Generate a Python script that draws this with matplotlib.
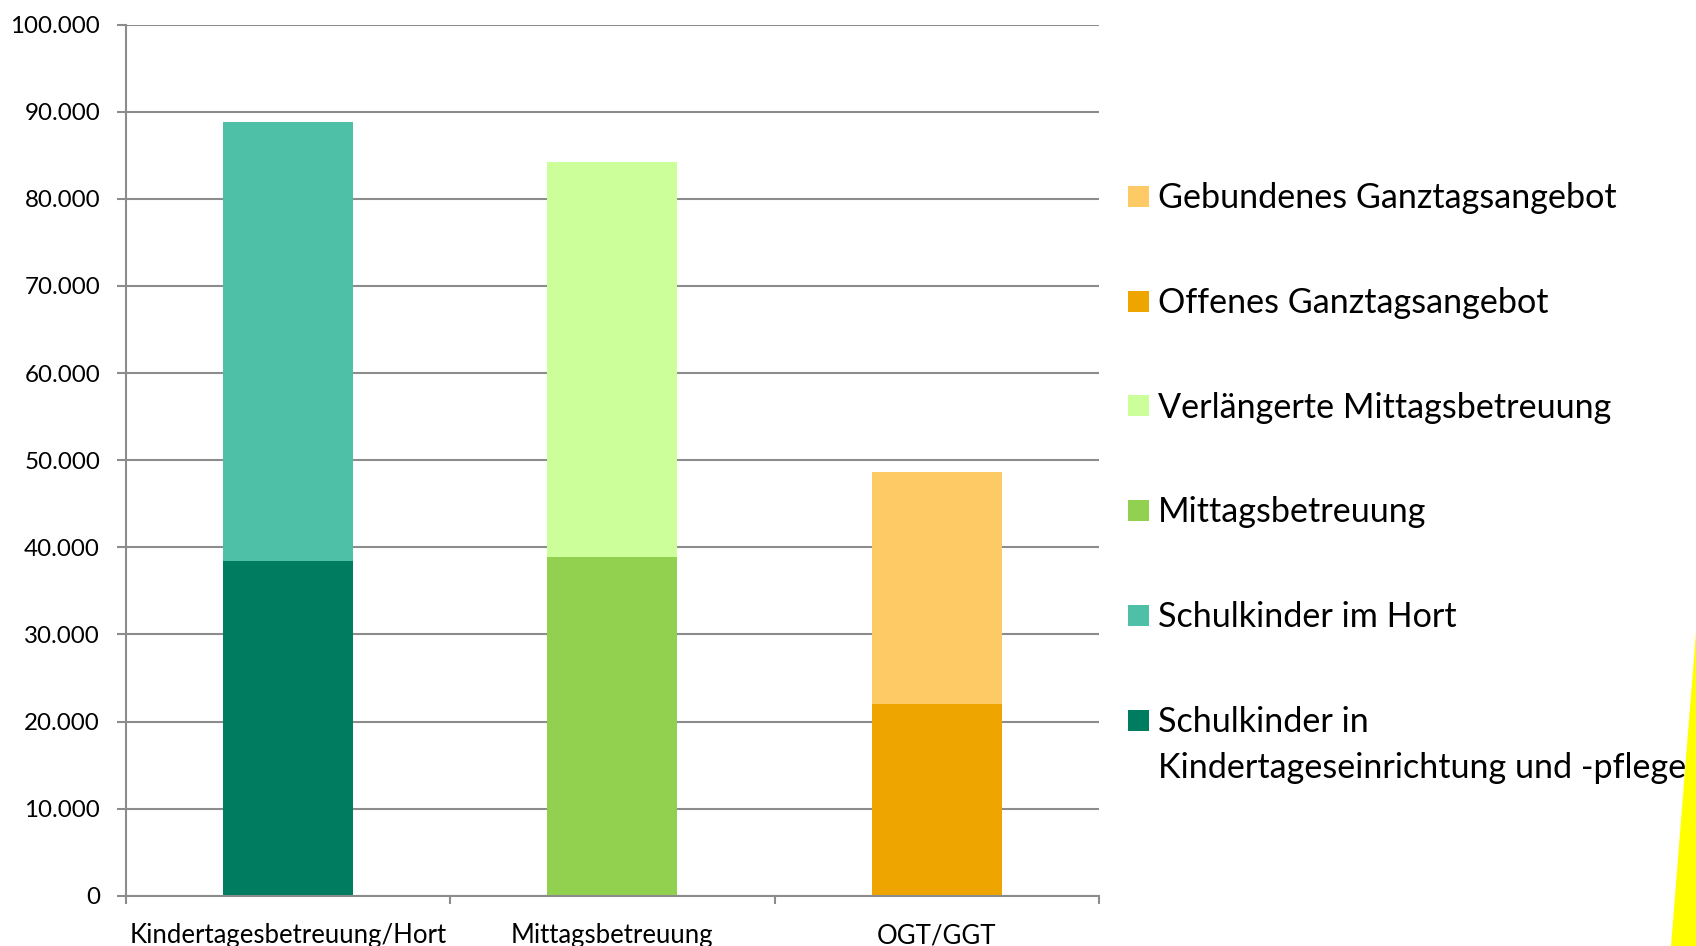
import numpy as np
import matplotlib
matplotlib.use("Agg")
import matplotlib.pyplot as plt
from matplotlib.patches import Rectangle, Polygon
from matplotlib.ticker import FuncFormatter, FixedLocator

plt.rcParams['font.family'] = ['Lato', 'DejaVu Sans']

# ---------------- data ----------------
categories = ["Kindertagesbetreuung/Hort", "Mittagsbetreuung", "OGT/GGT"]

series_names = [
    "Schulkinder in\nKindertageseinrichtung und -pflege",
    "Schulkinder im Hort",
    "Mittagsbetreuung",
    "Verlängerte Mittagsbetreuung",
    "Offenes Ganztagsangebot",
    "Gebundenes Ganztagsangebot",
]
kita_pflege      = [38400, 0, 0]
hort             = [50400, 0, 0]
mittag           = [0, 38900, 0]
mittag_verl      = [0, 45300, 0]
offen_ganztag    = [0, 0, 22000]
gebunden_ganztag = [0, 0, 26600]

series_values = [kita_pflege, hort, mittag, mittag_verl, offen_ganztag, gebunden_ganztag]
series_colors = ["#007C60", "#4EC0A8", "#92D050", "#CCFF99", "#EEA500", "#FDCA65"]

y_ticks = np.arange(0, 100001, 10000)

# ---------------- figure ----------------
W, H = 1696, 946
fig = plt.figure(figsize=(W / 100, H / 100), dpi=100)
fig.patch.set_facecolor("white")

ax_left, ax_right = 125.7, 1099.0
ax_top, ax_bottom = 24.7, 895.7
ax = fig.add_axes([ax_left / W, 1 - ax_bottom / H,
                   (ax_right - ax_left) / W, (ax_bottom - ax_top) / H])

x = np.arange(len(categories)) + 0.5
bottom = np.zeros(len(categories))
for name, vals, col in zip(series_names, series_values, series_colors):
    vals = np.array(vals, dtype=float)
    ax.bar(x, vals, width=0.4, bottom=bottom, color=col, edgecolor="none",
           label=name, zorder=3)
    bottom += vals

ax.set_xlim(0, 3)
ax.set_ylim(0, 100000)
ax.set_axisbelow(True)

grid_col = "#8C8C8C"
ax.yaxis.set_major_locator(FixedLocator(y_ticks))
ax.yaxis.set_major_formatter(FuncFormatter(lambda v, p: f"{int(v):,}".replace(",", ".")))
ax.grid(axis="y", color=grid_col, linewidth=1.5, zorder=0)

ax.set_xticks(x)
ax.set_xticklabels(categories)
ax.xaxis.set_minor_locator(FixedLocator([0, 1, 2, 3]))
ax.tick_params(axis="x", which="major", length=0, pad=20, labelsize=18.5, labelcolor="black")
ax.tick_params(axis="x", which="minor", length=6, width=1.5, color=grid_col, direction="out")
ax.tick_params(axis="y", which="major", length=6.5, width=1.5, color=grid_col,
               direction="out", pad=12, labelsize=17.4, labelcolor="black")

for s in ["top", "right"]:
    ax.spines[s].set_visible(False)
for s in ["left", "bottom"]:
    ax.spines[s].set_color(grid_col)
    ax.spines[s].set_linewidth(1.5)
    ax.spines[s].set_zorder(4)

# ---------------- legend (reversed order, manual layout) ----------------
leg_fs = 24.6
sq = 21
first_center = 196.2
spacing = 104.9
handles = list(zip(series_names, series_colors))[::-1]
for i, (name, col) in enumerate(handles):
    cy = first_center + i * spacing
    fig.patches.append(Rectangle((1128.3 / W, 1 - (cy + sq / 2) / H), sq / W, sq / H,
                                 transform=fig.transFigure, facecolor=col,
                                 edgecolor="none", figure=fig))
    lines = name.split("\n")
    for j, ln in enumerate(lines):
        base = cy + 11.5 + j * 45.5
        fig.text(1157.5 / W, 1 - base / H, ln, fontsize=leg_fs, va="baseline",
                 ha="left", color="black", zorder=2)

# decorative yellow shape at the right edge
fig.patches.append(Polygon([(1696 / W, 1 - 632 / H), (1671 / W, 0), (1, 0)],
                           closed=True, transform=fig.transFigure,
                           facecolor="#FFFF00", edgecolor="none", figure=fig, zorder=5))

fig.savefig("out.png", dpi=100, facecolor="white")
